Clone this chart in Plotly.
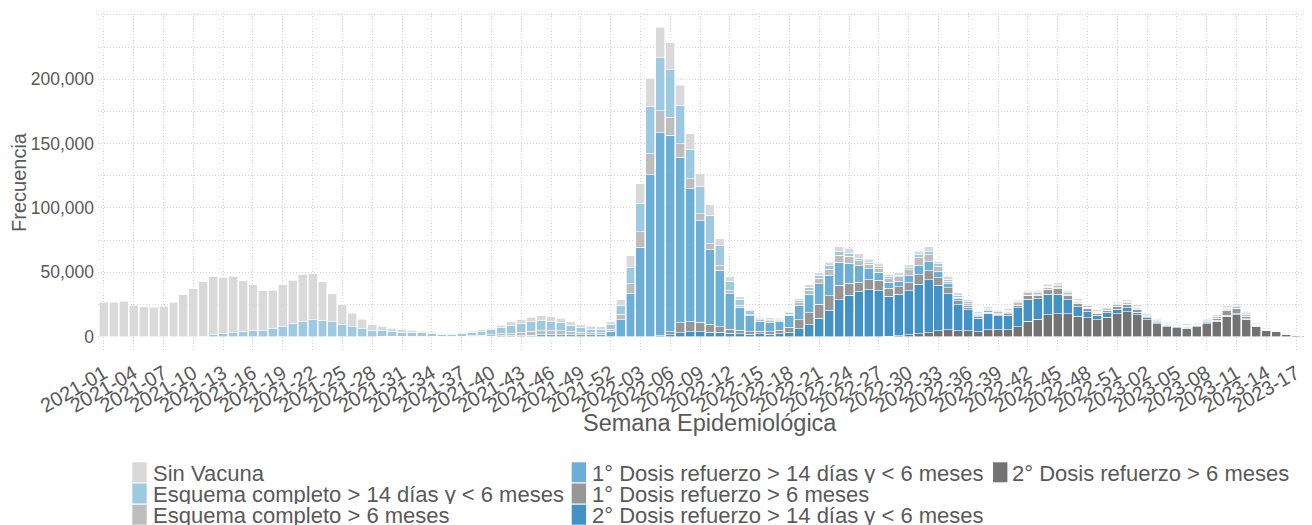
import plotly.graph_objects as go

# ---------------- categories ----------------
weeks = ([f"2021-{w:02d}" for w in range(1, 53)]
         + [f"2022-{w:02d}" for w in range(1, 53)]
         + [f"2023-{w:02d}" for w in range(1, 19)])
tick_labels = weeks[::3]
y_tick_values = [0, 50000, 100000, 150000, 200000]
x_title = "Semana Epidemiológica"
y_title = "Frecuencia"

# ---------------- series (frequency per week) ----------------
sin_vacuna = [
    26800, 26500, 27600, 24500, 23200, 22900, 23400, 26500, 32500, 37200,
    42400, 45300, 43500, 43800, 39900, 36000, 31000, 30200, 32300, 33800,
    36500, 36000, 30000, 21900, 15300, 10500, 7500, 4700, 3700, 2900,
    2100, 1600, 1000, 800, 600, 600, 600, 800, 900, 1100,
    1600, 2400, 2900, 3500, 3900, 3700, 3400, 2900, 2400, 2100,
    2100, 2400, 4400, 9300, 15100, 22100, 23600, 21000, 16100, 11900,
    9600, 8300, 5500, 3400, 1800, 1300, 1300, 1300, 1000, 1000,
    1600, 2100, 2100, 2600, 3900, 3900, 3400, 3100, 2600, 2100,
    2100, 2600, 2800, 3900, 1600, 2100, 1800, 1600, 1300, 1300,
    1000, 1000, 1300, 1300, 1300, 1600, 1600, 1300, 1300, 1300,
    1000, 1000, 1000, 1300, 1300, 1000, 800, 800, 800, 800,
    800, 800, 1000, 1600, 1600, 1300, 800, 500, 400, 300,
    200, 100,
]
esquema_14d_6m = [
    0, 0, 0, 0, 0, 0, 0, 0, 0, 0,
    300, 1300, 2300, 3100, 3600, 4400, 4700, 6000, 7800, 9900,
    11400, 13000, 12700, 11400, 9400, 7500, 6000, 4700, 4400, 3600,
    3400, 3100, 2900, 2300, 1600, 1600, 2100, 2600, 3200, 3900,
    5300, 6600, 6900, 7700, 7800, 7200, 6200, 4700, 3600, 2900,
    2600, 3200, 7000, 12700, 22300, 36600, 41000, 36900, 29300, 23100,
    21300, 22100, 15600, 7500, 4700, 2900, 1000, 1000, 1000, 1000,
    1800, 2100, 2100, 2600, 2600, 2300, 2100, 1000, 1000, 1300,
    1000, 1600, 2100, 2100, 1800, 1600, 1600, 1600, 1000, 1000,
    800, 800, 800, 800, 800, 800, 800, 800, 800, 800,
    800, 800, 800, 800, 800, 800, 800, 500, 500, 500,
    500, 500, 500, 500, 500, 500, 300, 200, 200, 100,
    100, 50,
]
esquema_6m = [
    0, 0, 0, 0, 0, 0, 0, 0, 0, 0,
    0, 0, 0, 0, 0, 0, 0, 0, 0, 0,
    0, 0, 0, 0, 0, 0, 0, 0, 100, 100,
    100, 200, 200, 200, 200, 200, 300, 500, 800, 1000,
    1600, 1800, 2400, 3000, 3100, 3200, 2900, 2400, 1800, 1300,
    1000, 1900, 4200, 7300, 11900, 16400, 17100, 14000, 10600, 7500,
    5700, 4700, 3600, 2300, 1600, 1000, 1000, 1000, 800, 1000,
    2100, 3100, 4400, 4700, 5400, 5700, 3900, 3600, 3400, 2800,
    3600, 4400, 6700, 5400, 4400, 2100, 1000, 1600, 1000, 1000,
    1300, 1300, 1800, 1800, 1300, 1600, 1300, 1300, 1000, 1000,
    800, 1000, 1300, 1300, 1000, 800, 800, 800, 500, 500,
    500, 800, 1300, 1300, 1300, 1000, 500, 300, 200, 100,
    100, 50,
]
dosis1_14d_6m = [
    0, 0, 0, 0, 0, 0, 0, 0, 0, 0,
    0, 0, 0, 0, 0, 0, 0, 0, 0, 0,
    0, 0, 0, 0, 0, 0, 0, 0, 0, 0,
    0, 0, 0, 0, 0, 0, 100, 200, 300, 400,
    500, 600, 800, 1000, 1300, 1500, 1600, 1600, 1600, 1600,
    2000, 4000, 13000, 33700, 69600, 125600, 157800, 152600, 128500, 103300,
    78700, 57900, 43600, 27500, 17900, 12200, 7800, 7300, 6500, 9300,
    10900, 14500, 15800, 15800, 17900, 15500, 12700, 8300, 6200, 4700,
    4100, 5400, 7000, 7000, 4700, 3100, 1800, 1000, 800, 800,
    500, 500, 500, 500, 500, 500, 500, 500, 500, 500,
    300, 300, 300, 300, 300, 300, 200, 200, 200, 200,
    200, 200, 200, 200, 200, 200, 100, 50, 50, 30,
    20, 10,
]
dosis1_6m = [
    0, 0, 0, 0, 0, 0, 0, 0, 0, 0,
    0, 0, 0, 0, 0, 0, 0, 0, 0, 0,
    0, 0, 0, 0, 0, 0, 0, 0, 0, 0,
    0, 0, 0, 0, 0, 0, 0, 0, 0, 0,
    0, 0, 0, 0, 0, 0, 0, 0, 0, 0,
    0, 0, 0, 0, 0, 0, 300, 2600, 7800, 7800,
    7300, 6200, 4400, 3100, 2600, 2100, 1800, 2100, 2800, 4100,
    7000, 9300, 11100, 11700, 11400, 9300, 7500, 7800, 8000, 6200,
    6000, 6500, 7300, 7300, 5700, 4700, 3100, 1800, 1000, 1000,
    1300, 1300, 1300, 2600, 2600, 3400, 4700, 3400, 2800, 2100,
    1300, 1800, 2100, 2300, 2300, 1300, 800, 500, 500, 500,
    500, 800, 1300, 3900, 3900, 1800, 500, 300, 200, 100,
    50, 30,
]
dosis2_14d_6m = [
    0, 0, 0, 0, 0, 0, 0, 0, 0, 0,
    0, 0, 0, 0, 0, 0, 0, 0, 0, 0,
    0, 0, 0, 0, 0, 0, 0, 0, 0, 0,
    0, 0, 0, 0, 0, 0, 0, 0, 0, 0,
    0, 0, 0, 0, 0, 0, 0, 0, 0, 0,
    0, 0, 0, 0, 0, 0, 500, 1300, 3100, 3900,
    3900, 3400, 3400, 2600, 2300, 1800, 2300, 1800, 2100, 3100,
    6200, 9300, 14200, 20200, 28500, 32100, 34700, 36500, 35700, 31100,
    32100, 33900, 38300, 40900, 35500, 28000, 20200, 16600, 10400, 12700,
    10900, 11400, 14800, 17100, 16100, 16100, 15000, 10900, 7300, 4900,
    3600, 3400, 3600, 3400, 2300, 1300, 800, 1000, 800, 800,
    800, 800, 800, 800, 800, 500, 300, 100, 100, 50,
    30, 20,
]
dosis2_6m = [
    0, 0, 0, 0, 0, 0, 0, 0, 0, 0,
    0, 0, 0, 0, 0, 0, 0, 0, 0, 0,
    0, 0, 0, 0, 0, 0, 0, 0, 0, 0,
    0, 0, 0, 0, 0, 0, 0, 0, 0, 0,
    0, 0, 0, 0, 0, 0, 0, 0, 0, 0,
    0, 0, 0, 0, 0, 0, 0, 0, 0, 0,
    0, 0, 0, 0, 0, 0, 0, 0, 0, 0,
    0, 0, 0, 0, 0, 0, 0, 0, 0, 300,
    800, 1600, 2300, 3100, 4400, 5200, 4400, 4400, 3900, 5400,
    5200, 5200, 7800, 11900, 13500, 16800, 17900, 17900, 15800, 14500,
    13000, 15000, 17600, 19200, 16800, 13200, 9800, 7800, 6700, 6500,
    7500, 9800, 11900, 15800, 17100, 13500, 8000, 4900, 3600, 1800,
    1200, 800,
]

series_names = [
    "Sin Vacuna",
    "Esquema completo > 14 días y < 6 meses",
    "Esquema completo > 6 meses",
    "1° Dosis refuerzo > 14 días y < 6 meses",
    "1° Dosis refuerzo > 6 meses",
    "2° Dosis refuerzo > 14 días y < 6 meses",
    "2° Dosis refuerzo > 6 meses",
]
series_values = [sin_vacuna, esquema_14d_6m, esquema_6m, dosis1_14d_6m,
                 dosis1_6m, dosis2_14d_6m, dosis2_6m]
series_colors = ["#d9d9d9", "#9ecae1", "#bdbdbd", "#6baed6",
                 "#969696", "#4292c6", "#737373"]

FONT = "Liberation Sans, Arial, sans-serif"
TXT = "#595959"
GRID = "#d6d6d6"

fig = go.Figure()
# stack: last series at the bottom
for name, vals, col in reversed(list(zip(series_names, series_values, series_colors))):
    fig.add_trace(go.Bar(
        x=weeks, y=vals, name=name,
        marker=dict(color=col, line=dict(color="white", width=0.6)),
        showlegend=False,
        hovertemplate="%{x}<br>%{y:,}<extra>" + name + "</extra>",
    ))

# ---------------- layout geometry ----------------
# The page body has an 8px default margin, so the figure is sized to fill
# the remaining window area and page pixel positions are offset by 8.
OFF = 8
W, H = 1312 - OFF, 525 - OFF
L, R, T, B = 98 - OFF, 0, 13 - OFF, 525 - 352
pw, ph = W - L - R, H - T - B


def px_x(page_x):
    return (page_x - OFF - L) / pw


def px_y(page_y):
    return (H - B - (page_y - OFF)) / ph


fig.update_layout(
    width=W, height=H,
    margin=dict(l=L, r=R, t=T, b=B, autoexpand=False),
    barmode="stack", bargap=0.1,
    plot_bgcolor="white", paper_bgcolor="white",
    font=dict(family=FONT, color=TXT),
    showlegend=False,
    xaxis=dict(
        type="category", categoryorder="array", categoryarray=weeks,
        range=[-0.6, len(weeks) - 0.4],
        tickmode="array", tickvals=tick_labels, ticktext=tick_labels,
        tickangle=-30, tickfont=dict(size=20, color=TXT, family=FONT),
        ticks="outside", ticklen=1, tickcolor="rgba(0,0,0,0)",
        zeroline=False, showline=False,
        showgrid=True, gridcolor=GRID, griddash="1px,2px", gridwidth=1,
    ),
    yaxis=dict(
        range=[-11975, 251475],
        tickmode="array", tickvals=y_tick_values, tickformat=",",
        tickfont=dict(size=17.5, color=TXT, family=FONT),
        ticks="", ticklabelstandoff=3,
        zeroline=False, showline=False,
        showgrid=True, gridcolor=GRID, griddash="1px,2px", gridwidth=1,
        minor=dict(tickmode="linear", tick0=0, dtick=25000, showgrid=True,
                   gridcolor=GRID, griddash="1px,2px", gridwidth=1, ticks=""),
        title=dict(text=y_title, font=dict(size=20, color=TXT, family=FONT), standoff=0),
    ),
)

# x-axis title placed as in the reference
fig.add_annotation(xref="paper", yref="paper", x=px_x(710), y=px_y(422.5),
                   xanchor="center", yanchor="middle", showarrow=False,
                   text=x_title, font=dict(size=23.5, color=TXT, family=FONT))

# ---------------- legend (3 columns, column-major, like the reference) ----------------
col_swatch_x = [132.3, 571.7, 993.0]
col_text_x = [151.0, 590.0, 1010.0]
row_top = [462.3, 483.5, 504.7]
row_h = 20.0
sw_w = 14.4
legend_cells = [(0, 0), (0, 1), (0, 2), (1, 0), (1, 1), (1, 2), (2, 0)]
for (c, r), name, col in zip(legend_cells, series_names, series_colors):
    y0, y1 = row_top[r], row_top[r] + row_h
    fig.add_shape(type="rect", xref="paper", yref="paper",
                  x0=px_x(col_swatch_x[c]), x1=px_x(col_swatch_x[c] + sw_w),
                  y0=px_y(y1), y1=px_y(y0),
                  fillcolor=col, line=dict(width=0), layer="above")
    fig.add_annotation(xref="paper", yref="paper",
                       x=px_x(col_text_x[c]), y=px_y((y0 + y1) / 2 + 0.5),
                       xanchor="left", yanchor="middle", showarrow=False,
                       height=20, valign="middle",
                       text=name, font=dict(size=22, color=TXT, family=FONT))

fig.write_html("out.html")
